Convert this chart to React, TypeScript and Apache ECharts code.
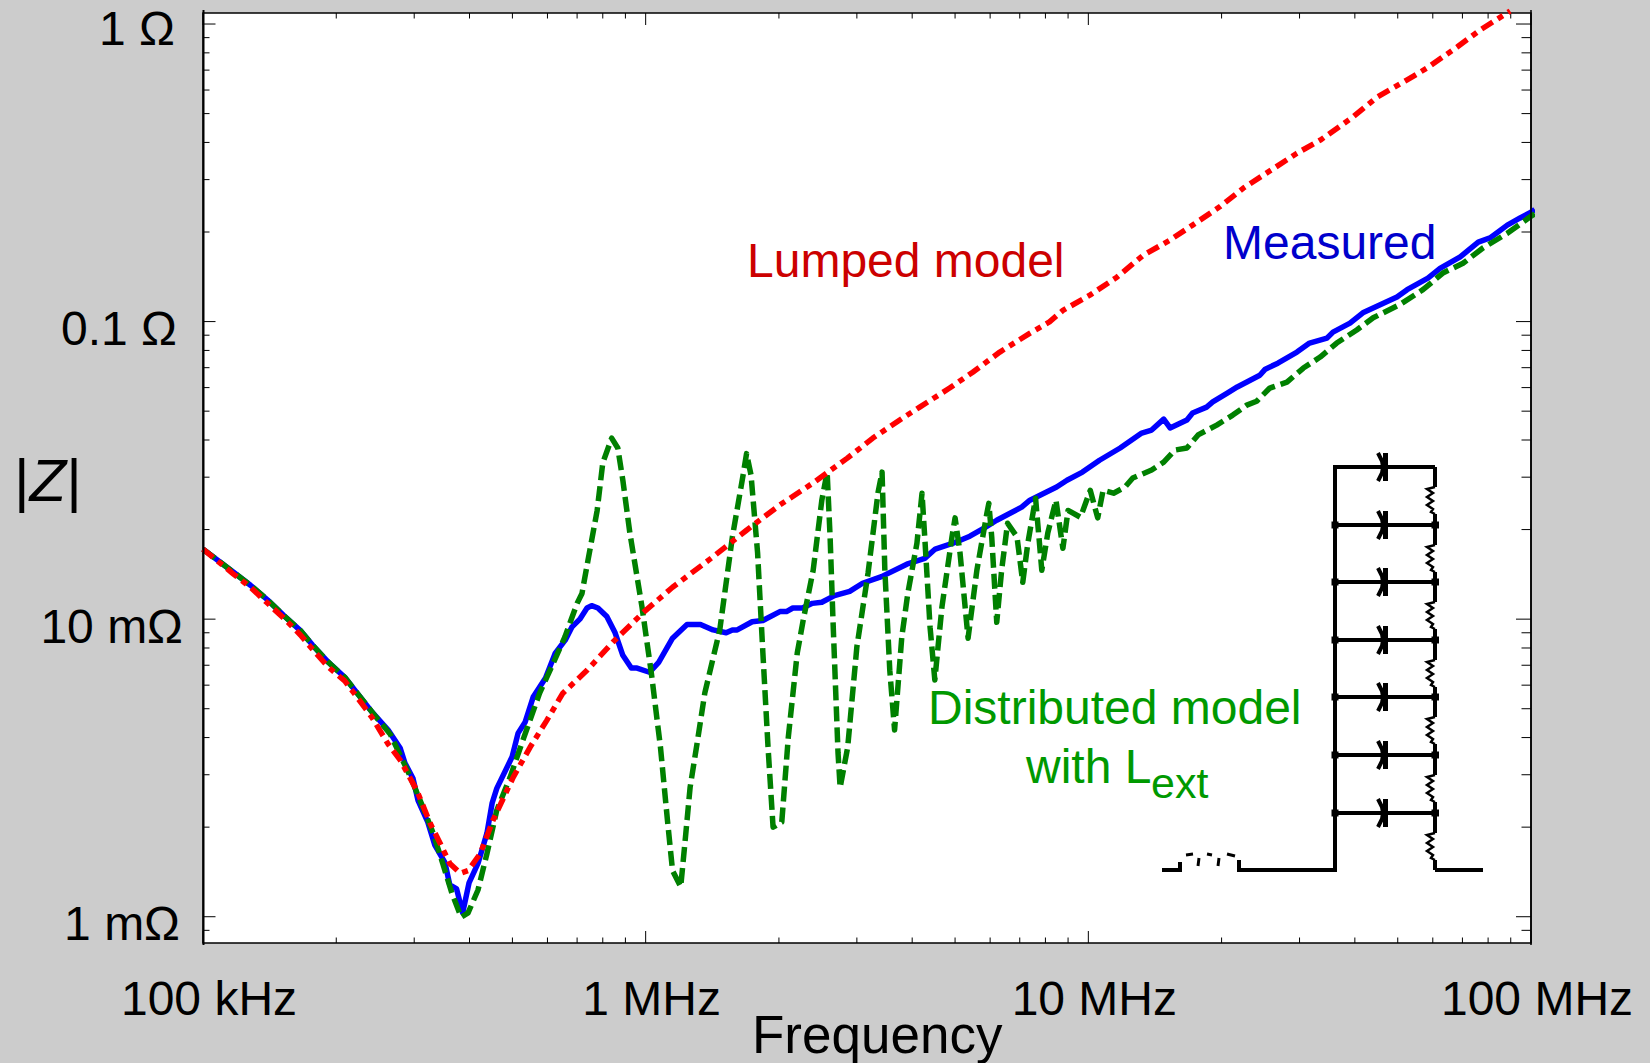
import React, { useEffect, useRef } from "react";
import * as echarts from "echarts";

// Frequency in kHz, |Z| in milliohm.
const measured: [number, number][] = [
  [100, 17.2], [117, 14.4], [128, 13.0], [140, 11.6], [152, 10.3], [166, 9.15], [177, 8.17], [192, 7.16],
  [209, 6.38], [223, 5.64], [241, 4.87], [262, 4.24], [279, 3.68], [286, 3.28], [298, 2.92], [306, 2.46],
  [322, 2.08], [334, 1.74], [352, 1.52], [361, 1.28], [374, 1.24], [386, 1.03], [399, 1.3], [418, 1.51],
  [438, 1.91], [450, 2.41], [461, 2.7], [499, 3.44], [515, 4.14], [534, 4.5], [557, 5.47], [594, 6.34],
  [625, 7.69], [658, 8.5], [681, 9.4], [710, 10.0], [737, 10.9], [755, 11.1], [780, 10.9], [817, 10.2],
  [853, 9.0], [888, 7.56], [928, 6.85], [956, 6.85], [1020, 6.63], [1070, 7.16], [1150, 8.63], [1240, 9.6],
  [1330, 9.6], [1420, 9.2], [1520, 9.0], [1570, 9.2], [1610, 9.2], [1740, 9.8], [1840, 9.9], [2010, 10.6],
  [2080, 10.6], [2150, 10.9], [2260, 10.9], [2380, 11.3], [2500, 11.4], [2670, 12.0], [2890, 12.4],
  [3090, 13.2], [3410, 13.9], [3890, 15.3], [4270, 16.0], [4510, 17.2], [4950, 18.0], [5400, 19.0],
  [5800, 20.2], [6210, 21.5], [7070, 23.8], [7380, 25.1], [8480, 27.8], [8950, 29.3], [9700, 31.2],
  [10600, 34.2], [11800, 37.6], [13200, 42.2], [13900, 43.2], [14800, 47.0], [15300, 43.9], [16700, 46.7],
  [17200, 49.3], [18500, 51.6], [19100, 53.7], [20600, 57.5], [21700, 60.3], [24400, 66.0], [25100, 69.2],
  [26800, 72.5], [29600, 79.0], [31600, 84.7], [34600, 88.0], [35700, 92.2], [39000, 98.8], [41700, 107],
  [49800, 121], [52500, 128], [58500, 140], [62300, 151], [69200, 165], [76000, 185], [80800, 191],
  [88400, 211], [94500, 223], [100000, 233], [102000, 238],
];

const distributed: [number, number][] = [
  [100, 17.2], [117, 14.4], [128, 13.0], [140, 11.6], [152, 10.3], [166, 9.15], [177, 8.17], [192, 7.16],
  [209, 6.38], [223, 5.64], [241, 4.87], [265, 4.1], [293, 2.99], [314, 2.33], [331, 1.91], [348, 1.51],
  [365, 1.2], [383, 0.996], [397, 1.03], [418, 1.23], [438, 1.63], [461, 2.28], [494, 2.94], [528, 3.92],
  [576, 5.64], [618, 7.11], [657, 8.72], [700, 11.3], [718, 12.2], [741, 15.8], [777, 23.2], [800, 33.5],
  [838, 40.6], [865, 37.6], [888, 29.3], [921, 19.5], [981, 11.0], [1030, 6.59], [1080, 3.71], [1120, 2.11],
  [1150, 1.43], [1200, 1.26], [1230, 1.85], [1260, 2.72], [1310, 3.92], [1360, 5.64], [1470, 9.19],
  [1570, 18.9], [1660, 30.5], [1690, 36.0], [1730, 30.5], [1790, 16.7], [1840, 7.69], [1890, 3.71],
  [1940, 2.0], [2030, 2.08], [2100, 4.01], [2200, 7.69], [2270, 9.95], [2390, 14.6], [2500, 25.1],
  [2570, 31.2], [2610, 18.9], [2650, 9.85], [2720, 3.55], [2750, 2.72], [2860, 3.71], [3000, 8.07],
  [3180, 14.3], [3350, 26.7], [3420, 31.2], [3470, 14.6], [3560, 6.74], [3650, 4.24], [3790, 8.72],
  [3910, 12.2], [4100, 18.0], [4210, 26.5], [4270, 18.9], [4390, 9.4], [4500, 6.25], [4670, 11.0],
  [4920, 18.9], [5000, 21.9], [5130, 16.7], [5350, 8.63], [5600, 14.6], [5900, 22.7], [5960, 24.5],
  [6050, 18.9], [6210, 9.76], [6370, 14.6], [6570, 21.0], [6900, 18.9], [7110, 13.3], [7300, 18.0],
  [7600, 25.5], [7850, 14.6], [8100, 19.5], [8450, 25.1], [8760, 17.3], [9000, 23.2], [9600, 22.0],
  [10100, 27.1], [10500, 21.9], [10800, 27.1], [11400, 26.5], [12100, 27.8], [12600, 29.8], [13900, 31.7],
  [14800, 33.7], [15700, 37.0], [16700, 37.6], [17700, 41.6], [19500, 44.9], [21200, 48.5], [22800, 52.4],
  [24000, 54.0], [25700, 59.8], [28100, 62.6], [30600, 69.8], [33400, 76.0], [36400, 84.7], [40400, 93.7],
  [44000, 103], [50500, 114], [57000, 128], [63400, 146], [70200, 157], [78000, 177], [88400, 198],
  [100000, 226], [102000, 230],
];

const lumped: [number, number][] = [
  [100, 17.2], [117, 14.2], [128, 12.8], [140, 11.3], [152, 10.1], [166, 8.85], [177, 7.9], [192, 6.9],
  [209, 6.2], [223, 5.46], [241, 4.67], [262, 3.8], [279, 3.36], [304, 2.66], [326, 2.06], [343, 1.77],
  [361, 1.51], [381, 1.4], [397, 1.43], [423, 1.63], [452, 2.11], [502, 2.94], [548, 3.71], [598, 4.57],
  [650, 5.64], [737, 6.73], [845, 8.4], [986, 10.5], [1150, 12.8], [1420, 16.2], [1690, 19.9], [2010, 24.2],
  [2390, 28.7], [2850, 34.7], [3260, 40.6], [3750, 46.7], [4160, 51.6], [4860, 59.8], [5480, 67.6],
  [6310, 79.0], [7370, 91.3], [8170, 99.8], [8760, 109], [10100, 123], [11600, 141], [13300, 167],
  [15300, 188], [17200, 211], [19800, 243], [22400, 281], [25300, 316], [29600, 368], [33400, 407],
  [39600, 487], [44900, 568], [52500, 649], [58200, 711], [68100, 837], [76700, 954], [89700, 1106],
];

const freqMin = 100;
const freqMax = 100000;
const zMin = 0.816;
const zMax = 1089;

const freqMajorTicks = [100, 1000, 10000, 100000];
const freqMinorTicks = [
  200, 300, 400, 500, 600, 700, 800, 900, 2000, 3000, 4000, 5000, 6000, 7000, 8000, 9000, 20000, 30000, 40000,
  50000, 60000, 70000, 80000, 90000,
];
const freqLabels = ["100 kHz", "1 MHz", "10 MHz", "100 MHz"];

const zMajorTicks = [1, 10, 100, 1000];
const zMinorTicks = [
  0.9, 2, 3, 4, 5, 6, 7, 8, 9, 20, 30, 40, 50, 60, 70, 80, 90, 200, 300, 400, 500, 600, 700, 800, 900,
];
const zLabels = ["1 m\u03a9", "10 m\u03a9", "0.1 \u03a9", "1 \u03a9"];
const zLabelRightEdge = [180, 183, 177, 175];
const zLabelDrop = [7, 7, 7, 4];

const FONT = '"Liberation Sans", Arial, sans-serif';
const LABEL_SIZE = 48;

const xTickSeries = (ticks: number[], len: number) => ({
  type: "custom",
  silent: true,
  z: 1,
  data: ticks.map((t) => [t, zMin]),
  renderItem: (_p: any, api: any) => {
    const v = api.value(0);
    const b = api.coord([v, zMin]);
    const t = api.coord([v, zMax]);
    return {
      type: "group",
      children: [
        { type: "line", shape: { x1: b[0], y1: b[1], x2: b[0], y2: b[1] - len }, style: { stroke: "#000", lineWidth: 1 } },
        { type: "line", shape: { x1: t[0], y1: t[1], x2: t[0], y2: t[1] + len }, style: { stroke: "#000", lineWidth: 1 } },
      ],
    };
  },
});

const yTickSeries = (ticks: number[], leftLen: number, rightLen: number) => ({
  type: "custom",
  silent: true,
  z: 1,
  data: ticks.map((t) => [freqMin, t]),
  renderItem: (_p: any, api: any) => {
    const v = api.value(1);
    const l = api.coord([freqMin, v]);
    const r = api.coord([freqMax, v]);
    return {
      type: "group",
      children: [
        { type: "line", shape: { x1: l[0], y1: l[1], x2: l[0] + leftLen, y2: l[1] }, style: { stroke: "#000", lineWidth: 1 } },
        { type: "line", shape: { x1: r[0], y1: r[1], x2: r[0] - rightLen, y2: r[1] }, style: { stroke: "#000", lineWidth: 1 } },
      ],
    };
  },
});

const freqLabelSeries = {
  type: "custom",
  silent: true,
  data: freqMajorTicks.map((t) => [t, zMin]),
  renderItem: (p: any, api: any) => {
    const c = api.coord([api.value(0), zMin]);
    return {
      type: "text",
      x: c[0] + 6,
      y: 1022,
      style: {
        text: freqLabels[p.dataIndex],
        fill: "#000",
        fontSize: LABEL_SIZE,
        fontFamily: FONT,
        align: "center",
        verticalAlign: "bottom",
      },
    };
  },
};

const zLabelSeries = {
  type: "custom",
  silent: true,
  data: zMajorTicks.map((t) => [freqMin, t]),
  renderItem: (p: any, api: any) => {
    const c = api.coord([freqMin, api.value(1)]);
    return {
      type: "text",
      x: zLabelRightEdge[p.dataIndex],
      y: c[1] + zLabelDrop[p.dataIndex],
      style: {
        text: zLabels[p.dataIndex],
        fill: "#000",
        fontSize: LABEL_SIZE,
        fontFamily: FONT,
        align: "right",
        verticalAlign: "middle",
      },
    };
  },
};

const lineSeries = (name: string, data: [number, number][], color: string, dash: any, width: number, z: number) => ({
  name,
  type: "line",
  data,
  showSymbol: false,
  symbol: "none",
  clip: false,
  z,
  silent: true,
  lineStyle: { color, width, type: dash, cap: "butt", join: "round" },
});

const line = (x1: number, y1: number, x2: number, y2: number, lineWidth = 4) => ({
  type: "line",
  silent: true,
  z: 20,
  shape: { x1, y1, x2, y2 },
  style: { stroke: "#000", lineWidth },
});

const poly = (points: number[][], lineWidth = 4) => ({
  type: "polyline",
  silent: true,
  z: 20,
  shape: { points },
  style: { stroke: "#000", lineWidth, fill: "none" },
});

const text = (s: string, x: number, baseline: number, fill: string, fontSize = LABEL_SIZE) => ({
  type: "text",
  silent: true,
  z: 20,
  x,
  y: baseline + 0.17 * fontSize,
  style: { text: s, fill, fontSize, fontFamily: FONT, align: "left", verticalAlign: "bottom" },
});

function schematic() {
  const els: any[] = [];
  const rungs = [467, 525, 582, 640, 697, 755, 813];
  const xL = 1335;
  const xR = 1435;
  const xC = 1383;
  els.push(poly([[1162, 870], [1180, 870], [1180, 862]]));
  els.push(line(1186, 855, 1193, 854, 3), line(1207, 854, 1212, 855, 3), line(1227, 854, 1235, 856, 3));
  els.push(line(1199, 858, 1198, 866, 3), line(1219, 858, 1218, 866, 3));
  els.push(poly([[1239, 860], [1239, 870], [xL, 870], [xL, 467], [xR, 467]]));
  rungs.forEach((y, i) => {
    els.push(line(xL, y, xR, y));
    els.push(poly([[xC - 5, y - 14], [xC - 1, y - 6], [xC, y], [xC - 1, y + 6], [xC - 5, y + 14]], 4));
    els.push(line(xC + 2.5, y - 14, xC + 2.5, y + 14, 5));
    if (i > 0) {
      els.push({ type: "rect", silent: true, z: 20, shape: { x: xL - 3.5, y: y - 3.5, width: 7, height: 7 }, style: { fill: "#000" } });
      els.push({ type: "rect", silent: true, z: 20, shape: { x: xR - 3.5, y: y - 3.5, width: 7.5, height: 7 }, style: { fill: "#000" } });
    }
    const top = y + 20;
    const pts: number[][] = [[xR, top]];
    for (let k = 0; k < 6; k++) {
      pts.push([xR - (k % 2 === 0 ? 8 : 2), top + 2 + k * 4]);
    }
    pts.push([xR - 4, top + 25], [xR, top + 27]);
    els.push(line(xR, y, xR, top));
    els.push(poly(pts, 2.5));
    const next = i < rungs.length - 1 ? rungs[i + 1] : 870;
    els.push(line(xR, top + 27, xR, next));
  });
  els.push(poly([[xR, 870], [1483, 870]]));
  return els;
}

export default function App() {
  const ref = useRef<HTMLDivElement>(null);
  useEffect(() => {
    const chart = echarts.init(ref.current!, undefined, { renderer: "svg" });
    chart.setOption({
      animation: false,
      backgroundColor: "#cccccc",
      grid: {
        left: 203,
        right: 119,
        top: 13,
        bottom: 120,
        show: true,
        backgroundColor: "#ffffff",
        borderColor: "#000000",
        borderWidth: 1.5,
      },
      xAxis: {
        type: "log",
        logBase: 10,
        min: freqMin,
        max: freqMax,
        axisLine: { show: false },
        axisTick: { show: false },
        axisLabel: { show: false },
        splitLine: { show: false },
        minorTick: { show: false },
      },
      yAxis: {
        type: "log",
        logBase: 10,
        min: zMin,
        max: zMax,
        axisLine: { show: false },
        axisTick: { show: false },
        axisLabel: { show: false },
        splitLine: { show: false },
        minorTick: { show: false },
      },
      series: [
        xTickSeries(freqMajorTicks, 12),
        xTickSeries(freqMinorTicks, 5.5),
        yTickSeries(zMajorTicks, 12.5, 15),
        yTickSeries(zMinorTicks, 6.5, 9.5),
        freqLabelSeries,
        zLabelSeries,
        lineSeries("Measured", measured, "#0000ff", "solid", 5.5, 5),
        lineSeries("Distributed model", distributed, "#008000", [15, 6], 5.5, 6),
        lineSeries("Lumped model", lumped, "#ff0000", [13, 6, 6, 6], 5.5, 7),
      ],
      graphic: {
        elements: [
          line(203.5, 10, 203.5, 945, 2),
          line(1531, 10, 1531, 945, 1.5),
          text("Lumped model", 747, 276, "#cc0000"),
          text("Measured", 1223, 258, "#0000cc"),
          text("Distributed model", 928, 723, "#009900"),
          text("with L", 1026, 782, "#009900"),
          text("ext", 1151, 797, "#009900", 43),
          text("Frequency", 752, 1052, "#000000", 53),
          {
            type: "text",
            silent: true,
            z: 20,
            x: 14,
            y: 510,
            style: {
              text: "|{z|Z}|",
              fill: "#000",
              fontSize: 60,
              fontFamily: FONT,
              align: "left",
              verticalAlign: "bottom",
              rich: { z: { fontStyle: "italic", fontSize: 60, fontFamily: FONT, fill: "#000" } },
            },
          },
          ...schematic(),
        ],
      },
    });
    return () => chart.dispose();
  }, []);
  return <div ref={ref} style={{ position: "absolute", left: 0, top: 0, width: 1650, height: 1063 }} />;
}
